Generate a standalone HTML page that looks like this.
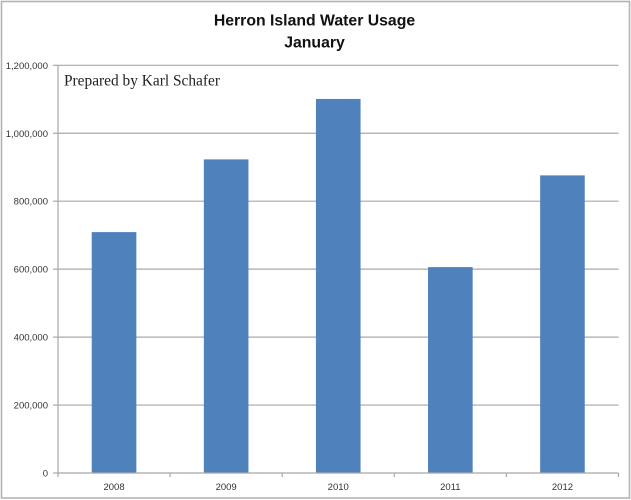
<!DOCTYPE html>
<html>
<head>
<meta charset="utf-8">
<style>
html,body{margin:0;padding:0;background:#fff;}
#wrap{width:631px;height:500px;overflow:hidden;position:relative;}
svg{display:block;}
text{font-family:"Liberation Sans",sans-serif;}
</style>
</head>
<body>
<div id="wrap">
<svg id="chart" width="631" height="500" viewBox="0 0 631 500" xmlns="http://www.w3.org/2000/svg">
  <rect x="1.5" y="1.5" width="628" height="496.5" fill="#fff" stroke="#b4b4b4" stroke-width="1.6"/>
  <text x="314.5" y="25.5" text-anchor="middle" font-size="15.8" font-weight="bold" fill="#111">Herron Island Water Usage</text>
  <text x="314.5" y="47.5" text-anchor="middle" font-size="15.8" font-weight="bold" fill="#111">January</text>
  <g id="grid"></g>
  <g id="bars"></g>
  <g id="axes"></g>
  <text x="64" y="85.5" font-size="15.4" fill="#222" style="font-family:'Liberation Serif',serif">Prepared by Karl Schafer</text>
</svg>
</div>
<script>
const categories = ['2008', '2009', '2010', '2011', '2012'];
const usage = [709000, 923000, 1101000, 606000, 876000];
const yTicks = [0, 200000, 400000, 600000, 800000, 1000000, 1200000];
const yTickLabels = ['0', '200,000', '400,000', '600,000', '800,000', '1,000,000', '1,200,000'];

const plotLeft = 58, plotRight = 618.5, plotTop = 65.3, plotBottom = 473;
const yMax = 1200000;
const svgNS = 'http://www.w3.org/2000/svg';
const yScale = v => plotBottom - (v / yMax) * (plotBottom - plotTop);
const band = (plotRight - plotLeft) / categories.length;
const xCenter = i => plotLeft + band * (i + 0.5);
const barWidth = band * 0.398;

function make(tag, attrs, parent) {
  const el = document.createElementNS(svgNS, tag);
  for (const k in attrs) el.setAttribute(k, attrs[k]);
  parent.appendChild(el);
  return el;
}
const gridG = document.getElementById('grid');
const barsG = document.getElementById('bars');
const axesG = document.getElementById('axes');
const axisColor = '#a8a8a8';

yTicks.forEach((t, i) => {
  const y = yScale(t);
  if (t > 0) {
    const g = make('line', {x1: plotLeft, x2: plotRight, y1: y, y2: y, stroke: axisColor, 'stroke-width': 1.2}, gridG);
    
    
  }
  const tick = make('line', {x1: plotLeft - 5, x2: plotLeft, y1: y, y2: y, stroke: axisColor, 'stroke-width': 1.2}, axesG);
  
  
  const lab = make('text', {x: 48, y: y + 3.5, 'text-anchor': 'end', 'font-size': 9.5, fill: '#333'}, axesG);
  lab.textContent = yTickLabels[i];
  
  
});

categories.forEach((c, i) => {
  const top = yScale(usage[i]);
  const r = make('rect', {x: xCenter(i) - barWidth / 2, y: top, width: barWidth, height: plotBottom - top, fill: '#4f81bd'}, barsG);
  
  
  const lab = make('text', {x: xCenter(i), y: 490, 'text-anchor': 'middle', 'font-size': 9.5, fill: '#333'}, axesG);
  lab.textContent = c;
  
  
});

for (let i = 0; i <= categories.length; i++) {
  const x = plotLeft + band * i;
  const t = make('line', {x1: x, x2: x, y1: plotBottom, y2: plotBottom + 4, stroke: axisColor, 'stroke-width': 1.2}, axesG);
  
  
}

const yAxis = make('line', {x1: plotLeft, x2: plotLeft, y1: plotTop, y2: plotBottom, stroke: axisColor, 'stroke-width': 1.2}, axesG);


const xAxis = make('line', {x1: plotLeft, x2: plotRight, y1: plotBottom, y2: plotBottom, stroke: axisColor, 'stroke-width': 1.2}, axesG);


</script>
</body>
</html>
